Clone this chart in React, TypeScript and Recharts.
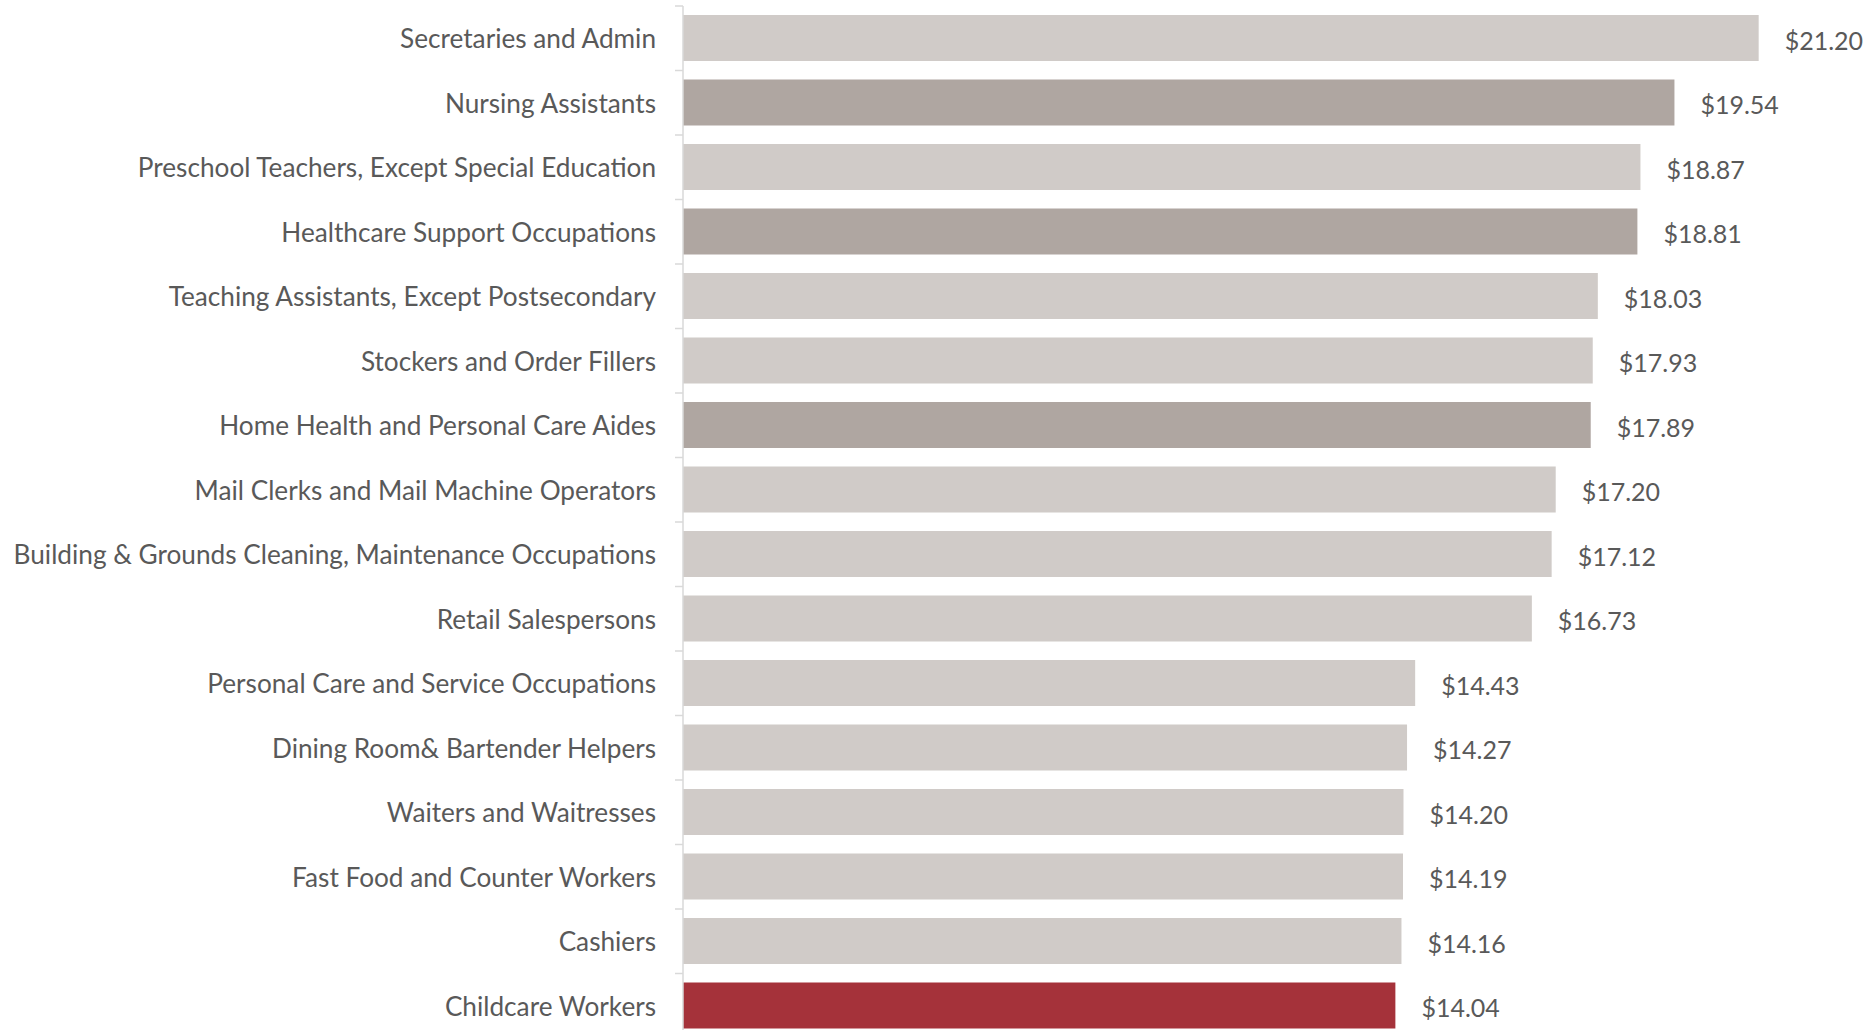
import { Bar, BarChart, Cell, LabelList, XAxis, YAxis } from "recharts";

const occupations = [
  "Secretaries and Admin",
  "Nursing Assistants",
  "Preschool Teachers, Except Special Education",
  "Healthcare Support Occupations",
  "Teaching Assistants, Except Postsecondary",
  "Stockers and Order Fillers",
  "Home Health and Personal Care Aides",
  "Mail Clerks and Mail Machine Operators",
  "Building & Grounds Cleaning, Maintenance Occupations",
  "Retail Salespersons",
  "Personal Care and Service Occupations",
  "Dining Room& Bartender Helpers",
  "Waiters and Waitresses",
  "Fast Food and Counter Workers",
  "Cashiers",
  "Childcare Workers",
];

const hourlyWage = [
  21.2, 19.54, 18.87, 18.81, 18.03, 17.93, 17.89, 17.2, 17.12, 16.73, 14.43, 14.27, 14.2, 14.19,
  14.16, 14.04,
];

// "light" = other occupations, "care" = care-sector comparisons, "focus" = childcare
const group = [
  "light", "care", "light", "care", "light", "light", "care", "light",
  "light", "light", "light", "light", "light", "light", "light", "focus",
];

const COLORS: Record<string, string> = {
  light: "#d0cbc8",
  care: "#afa6a1",
  focus: "#a5323a",
};

const data = occupations.map((name, i) => ({
  name,
  wage: hourlyWage[i],
  group: group[i],
}));

const FONT = "Lato, 'Open Sans', sans-serif";
const TEXT = "#595959";
const AXIS = "#d9d9d9";

interface TickProps {
  x?: number;
  y?: number;
  payload?: { value: string; offset?: number };
}

// x arrives already shifted left of the axis by tickSize + tickMargin (8)
function CategoryTick({ x = 0, y = 0, payload }: TickProps) {
  const half = payload?.offset ?? 0;
  return (
    <g>
      <line x1={x} x2={x + 8} y1={y - half} y2={y - half} stroke={AXIS} strokeWidth={1.5} />
      <text
        x={x - 19}
        y={y}
        textAnchor="end"
        dominantBaseline="central"
        fill={TEXT}
        fontSize={26.2}
        fontFamily={FONT}
      >
        {payload?.value}
      </text>
    </g>
  );
}

export default function App() {
  return (
    <div style={{ width: 1870, height: 1030, overflow: "hidden", background: "#fff" }}>
      <style>{"body{margin:0}"}</style>
      <BarChart
        layout="vertical"
        width={1870}
        height={1038}
        data={data}
        margin={{ top: 6, right: 20, bottom: 0, left: 0 }}
        barSize={46}
      >
        <XAxis type="number" domain={[0, 23]} hide />
        <YAxis
          type="category"
          dataKey="name"
          width={683}
          axisLine={{ stroke: AXIS, strokeWidth: 1.5 }}
          tickLine={false}
          tick={<CategoryTick />}
          interval={0}
        />
        <Bar dataKey="wage" isAnimationActive={false}>
          {data.map((d) => (
            <Cell key={d.name} fill={COLORS[d.group]} />
          ))}
          <LabelList
            dataKey="wage"
            position="right"
            offset={26}
            dy={3}
            formatter={(v: unknown) => `$${Number(v).toFixed(2)}`}
            fill={TEXT}
            fontSize={25}
            fontFamily={FONT}
          />
        </Bar>
      </BarChart>
    </div>
  );
}
